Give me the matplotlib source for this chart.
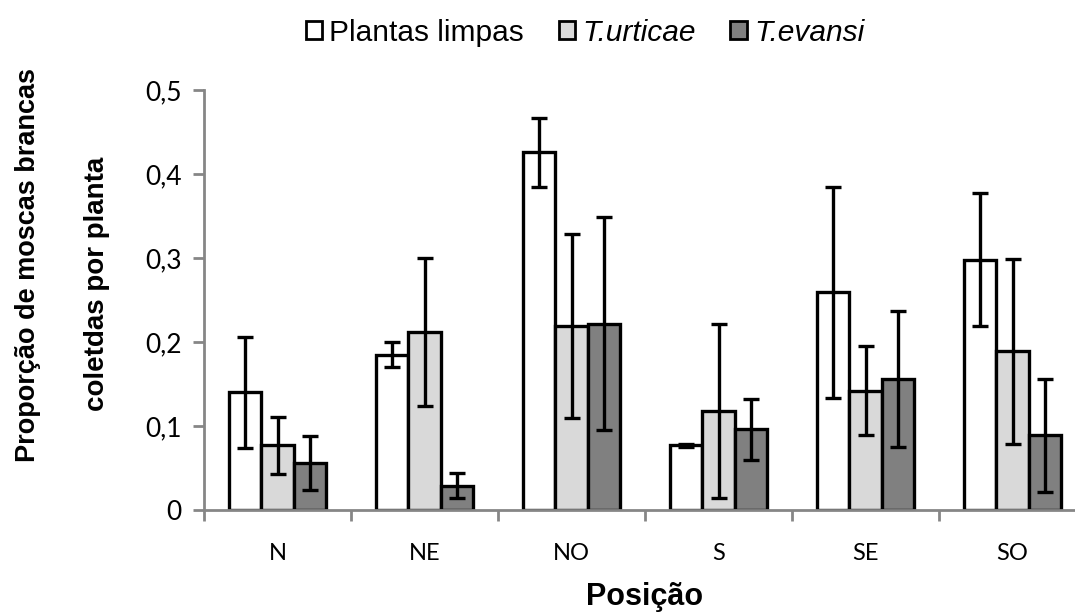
import numpy as np
import matplotlib
matplotlib.use("Agg")
from matplotlib import pyplot as plt
from matplotlib.patches import Patch
from matplotlib.ticker import FuncFormatter

# Mean proportion of whiteflies per plant by position, with error bars
positions = ["N", "NE", "NO", "S", "SE", "SO"]
series = ["Plantas limpas", "T.urticae", "T.evansi"]

limpas = [0.140, 0.185, 0.426, 0.077, 0.259, 0.298]
limpas_err = [0.066, 0.015, 0.041, 0.002, 0.126, 0.079]
urticae = [0.077, 0.212, 0.219, 0.118, 0.142, 0.189]
urticae_err = [0.034, 0.088, 0.109, 0.104, 0.053, 0.110]
evansi = [0.056, 0.029, 0.222, 0.096, 0.156, 0.089]
evansi_err = [0.032, 0.015, 0.127, 0.036, 0.081, 0.067]

colors = ["white", "#d9d9d9", "#808080"]

fig = plt.figure(figsize=(10.75, 6.14), dpi=100)
ax = fig.add_axes([204 / 1075, 104 / 614, 882 / 1075, 420 / 614])

x = np.arange(len(positions))
width = 0.222
for i, (vals, errs) in enumerate([(limpas, limpas_err), (urticae, urticae_err), (evansi, evansi_err)]):
    ax.bar(x + (i - 1) * width, vals, width, color=colors[i], edgecolor="black",
           linewidth=2.4, zorder=2)
    ax.errorbar(x + (i - 1) * width, vals, yerr=errs, fmt="none", ecolor="black",
                elinewidth=2.4, capsize=5.5, capthick=2.4, zorder=3)

ax.set_xlim(-0.5, len(positions) - 0.5)
ax.set_ylim(0, 0.5)
ax.set_yticks(np.arange(0, 0.51, 0.1))
ax.yaxis.set_major_formatter(FuncFormatter(lambda v, p: "0" if v == 0 else f"{v:.1f}".replace(".", ",")))

# category boundaries get the tick marks, labels sit in the middle
ax.set_xticks(np.arange(-0.5, len(positions), 1.0))
ax.set_xticklabels([])
ax.set_xticks(x, minor=True)
ax.set_xticklabels(positions, minor=True, fontsize=17, family="Lato")
ax.tick_params(axis="x", which="minor", length=0, pad=24)
ax.tick_params(axis="x", which="major", length=8, width=2, color="#868686", direction="out")
ax.tick_params(axis="y", length=8, width=2, color="#868686", direction="out",
               labelsize=19, pad=8)
for lbl in ax.get_yticklabels():
    lbl.set_family("Lato")

for side in ["top", "right"]:
    ax.spines[side].set_visible(False)
for side in ["left", "bottom"]:
    ax.spines[side].set_color("#868686")
    ax.spines[side].set_linewidth(2)

fig.text(28 / 1075, 1 - 265 / 614, "Proporção de moscas brancas", rotation=90,
         ha="center", va="center", fontsize=19.5, fontweight="bold", family="Liberation Sans")
fig.text(97 / 1075, 1 - 284 / 614, "coletdas por planta", rotation=90,
         ha="center", va="center", fontsize=20, fontweight="bold", family="Liberation Sans")
fig.text(645 / 1075, 1 - 597 / 614, "Posição", ha="center", va="center",
         fontsize=22, fontweight="bold", family="Liberation Sans")

handles = [Patch(facecolor=c, edgecolor="black", linewidth=2) for c in colors]
leg = fig.legend(handles, series, loc="center", bbox_to_anchor=(585 / 1075, 1 - 33 / 614),
                 ncol=3, frameon=False, handlelength=0.55, handleheight=0.55,
                 handletextpad=0.25, columnspacing=1.15,
                 prop={"family": "Liberation Sans", "size": 21.5})
for t in leg.get_texts()[1:]:
    t.set_fontstyle("italic")

fig.savefig("out.png", dpi=100)
